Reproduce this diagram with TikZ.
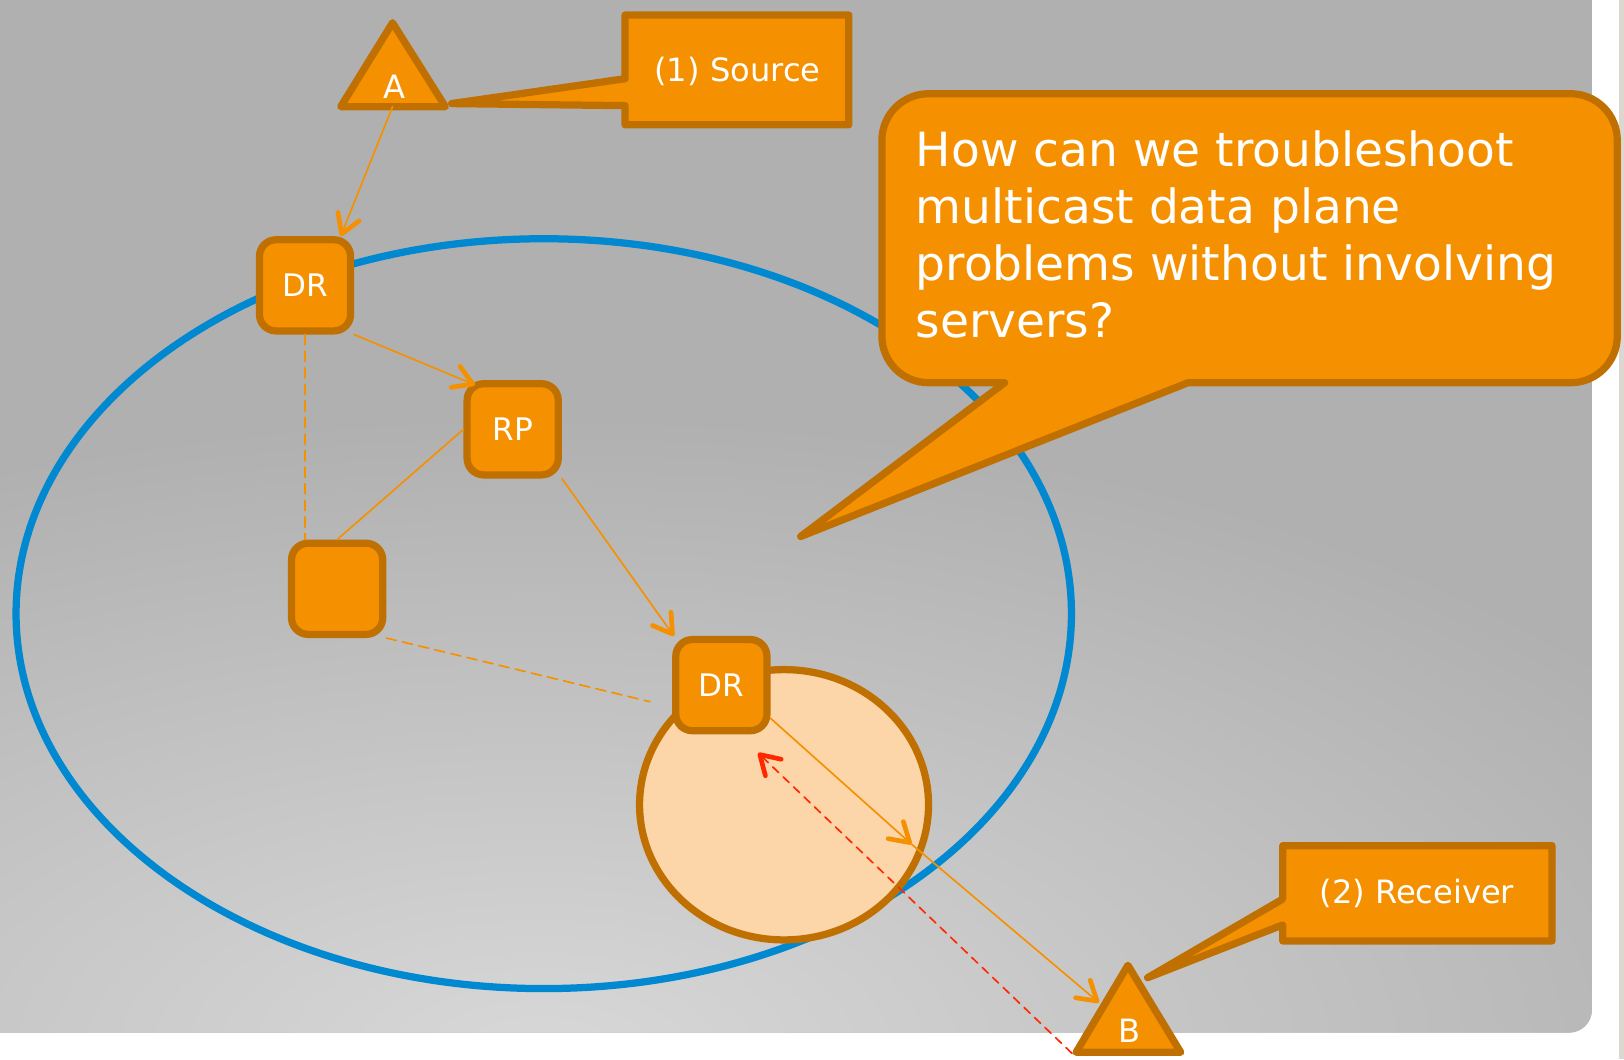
\documentclass[tikz,border=0pt]{standalone}
\usepackage{fontspec}
\setmainfont{DejaVu Sans}
\usetikzlibrary{arrows.meta}
\definecolor{bggray}{RGB}{176,176,176}
\definecolor{bglight}{RGB}{216,216,216}
\definecolor{boxfill}{RGB}{245,145,0}
\definecolor{boxline}{RGB}{192,112,0}
\definecolor{ringblue}{RGB}{0,136,208}
\definecolor{peach}{RGB}{252,213,168}
\definecolor{probered}{RGB}{255,40,0}
\definecolor{edgebar}{RGB}{220,216,208}
\begin{document}
\begin{tikzpicture}[x=1pt,y=-1pt,line join=round,line cap=round,
	>={Straight Barb[length=18pt,width=22pt,line width=4.5pt,round]},
	router/.style={draw=boxline,fill=boxfill,line width=7pt,rounded corners=16pt,minimum width=88pt,minimum height=88pt,inner sep=0pt,text=white,font=\fontsize{30}{36}\selectfont},
	bubble/.style={draw=boxline,fill=boxfill,line width=7pt},
	link/.style={boxfill,line width=1.6pt},
	txt/.style={text=white,inner sep=0pt,font=\fontsize{31}{36}\selectfont}]
	\useasboundingbox (0,0) rectangle (1568,1022.5);
	\clip (0,0) rectangle (1568,1022.5);
	\fill[edgebar] (1563,0) rectangle (1568,1022.5);
	\begin{scope}
		\clip[rounded corners=22pt] (-50,-50) rectangle (1537,997);
		\fill[bggray] (0,0) rectangle (1537,997);
		\shade[inner color=bglight,outer color=bggray] (520,1020) ellipse[x radius=1300,y radius=620];
	\end{scope}
	\draw[ringblue,line width=7pt] (525,592.5) ellipse[x radius=509.5,y radius=362];
	\draw[boxline,fill=peach,line width=7pt] (757,777) ellipse[x radius=139.5,y radius=130.5];
	\draw[bubble] (970,369.5) -- (773,518) -- (1147,369.5) -- (1516.5,369.5) .. controls (1541.4,369.5) and (1561.5,349.4) .. (1561.5,324.5) -- (1561.5,135.5) .. controls (1561.5,110.6) and (1541.4,90.5) .. (1516.5,90.5) -- (896.5,90.5) .. controls (871.6,90.5) and (851.5,110.6) .. (851.5,135.5) -- (851.5,324.5) .. controls (851.5,349.4) and (871.6,369.5) .. (896.5,369.5) -- cycle;
	\node[txt,font=\fontsize{45.5}{55}\selectfont,anchor=base west,align=left] (question) at (884,326) {How can we troubleshoot\\multicast data plane\\problems without involving\\servers?};
	\draw[bubble] (603.5,14.5) -- (819.5,14.5) -- (819.5,120.5) -- (603.5,120.5) -- (603.5,102) -- (436,100) -- (603.5,76) -- cycle;
	\node[txt] (srclabel) at (712,69) {(1) Source};
	\draw[bubble] (1238.5,816.5) -- (1498.5,816.5) -- (1498.5,908.5) -- (1238.5,908.5) -- (1238.5,893) -- (1108,944) -- (1238.5,868) -- cycle;
	\node[txt] (rcvlabel) at (1368,863) {(2) Receiver};
	\draw[bubble] (379,22) -- (430,103) -- (329,103) -- cycle;
	\node[txt] (hostA) at (381,84) {A};
	\draw[bubble] (1089,932) -- (1140,1016) -- (1039,1016) -- cycle;
	\node[txt] (hostB) at (1091,995) {B};
	\node[router] (dra) at (294.5,275.5) {DR};
	\node[router] (rp) at (495,414.5) {RP};
	\node[router] (hop) at (325.5,568.5) {};
	\node[router] (drb) at (696.5,661.5) {DR};
	\coordinate (abase) at (379,103);
	\coordinate (bend) at (880,815);
	\coordinate (bside) at (1061,968);
	\coordinate (bfoot) at (1035,1017);
	\coordinate (probe) at (732,727);
	\draw[link,->] (abase) -- (dra.54);
	\draw[link,->,shorten >=-12pt] (dra.-45) -- (rp.north west);
	\draw[link] (rp.west) -- (hop.north);
	\draw[link,dash pattern=on 10pt off 6pt] (dra.south) -- (dra.south |- hop.north);
	\draw[link,dash pattern=on 10pt off 6pt,shorten >=22pt] (hop.south east) -- (drb.204);
	\draw[link,->] (rp.south east) -- (drb.134);
	\draw[link,->] (drb.-34) -- (bend);
	\draw[link,->] (bend) -- (bside);
	\draw[probered,line width=1.6pt,dash pattern=on 8pt off 6pt,->] (bfoot) -- (probe);
\end{tikzpicture}
\end{document}
